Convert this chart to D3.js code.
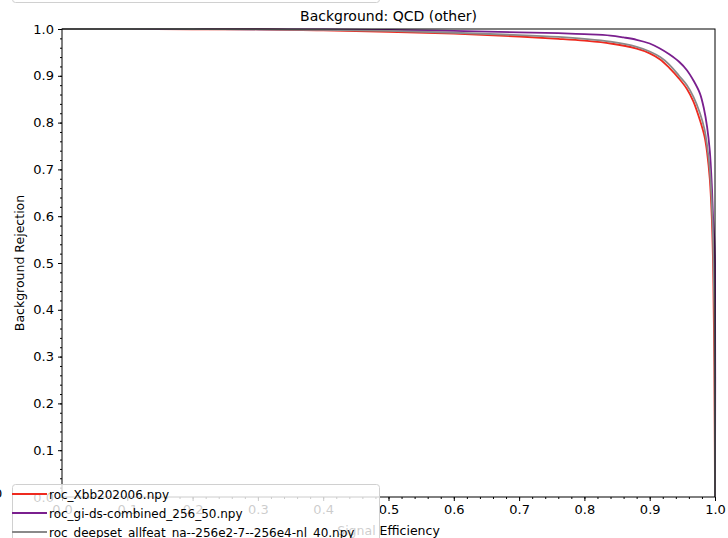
<!DOCTYPE html>
<html>
<head>
<meta charset="utf-8">
<script src="https://cdn.jsdelivr.net/npm/d3@7"></script>
<style>
  body { margin: 0; background: #fff; }
  svg { display: block; font-family: "DejaVu Sans", sans-serif; }
</style>
</head>
<body>
<div id="chart"></div>
<script>
// ROC curves, background QCD (other)
var seriesNames = ["roc_Xbb202006.npy", "roc_gi-ds-combined_256_50.npy", "roc_deepset_allfeat_na--256e2-7--256e4-nl_40.npy"];
var seriesColors = ["#ee2a1f", "#7a1f8e", "#8a8a8a"];

var xbbEff = [0, 0.1, 0.2, 0.3, 0.4, 0.5, 0.6, 0.7, 0.76, 0.8, 0.84, 0.88, 0.9, 0.916, 0.93, 0.945, 0.957, 0.967, 0.977, 0.984, 0.988, 0.992, 0.995, 0.997, 0.998, 0.999, 1.0];
var xbbRej = [1.0, 1.0, 0.9995, 0.999, 0.997, 0.994, 0.99, 0.984, 0.979, 0.975, 0.969, 0.958, 0.948, 0.935, 0.917, 0.894, 0.872, 0.845, 0.805, 0.77, 0.735, 0.68, 0.6, 0.5, 0.4, 0.28, 0.0];

var giEff = [0, 0.1, 0.2, 0.3, 0.4, 0.5, 0.6, 0.7, 0.76, 0.8, 0.84, 0.86, 0.88, 0.9, 0.915, 0.93, 0.945, 0.957, 0.967, 0.977, 0.983, 0.988, 0.992, 0.995, 0.997, 0.999, 1.0, 1.0];
var giRej = [1.0, 1.0, 1.0, 0.9995, 0.999, 0.998, 0.996, 0.993, 0.991, 0.989, 0.986, 0.982, 0.977, 0.969, 0.959, 0.946, 0.93, 0.912, 0.89, 0.862, 0.83, 0.79, 0.74, 0.67, 0.6, 0.55, 0.5, 0.0];

var dsEff = [0, 0.1, 0.2, 0.3, 0.4, 0.5, 0.6, 0.7, 0.76, 0.8, 0.84, 0.88, 0.9, 0.916, 0.93, 0.945, 0.957, 0.967, 0.977, 0.984, 0.988, 0.992, 0.995, 0.997, 0.999, 1.0];
var dsRej = [1.0, 1.0, 1.0, 0.999, 0.998, 0.996, 0.992, 0.987, 0.983, 0.979, 0.973, 0.962, 0.952, 0.94, 0.924, 0.9, 0.88, 0.855, 0.82, 0.785, 0.75, 0.7, 0.63, 0.55, 0.4, 0.0];

var xTicks = [0.0, 0.1, 0.2, 0.3, 0.4, 0.5, 0.6, 0.7, 0.8, 0.9, 1.0];
var yTicks = [0.0, 0.1, 0.2, 0.3, 0.4, 0.5, 0.6, 0.7, 0.8, 0.9, 1.0];

var width = 728, height = 538;
var margin = {left: 62, right: 13, top: 29, bottom: 41};

var svg = d3.select("#chart").append("svg")
    .attr("width", width)
    .attr("height", height);

var x = d3.scaleLinear().domain([0, 1]).range([margin.left, width - margin.right]);
var y = d3.scaleLinear().domain([0, 1]).range([height - margin.bottom, margin.top]);

// bottom edge of a legend box from the figure above (cropped)
svg.append("rect")
    .attr("x", 12.5).attr("y", -40)
    .attr("width", 367).attr("height", 42.5)
    .attr("rx", 3)
    .attr("fill", "#fff").attr("stroke", "#d0d0d0");

svg.append("text")
    .attr("x", -6).attr("y", 498)
    .attr("font-size", 13)
    .text("0");

var minor = d3.range(0, 1.0001, 0.02);

// minor ticks
svg.append("g")
    .attr("transform", "translate(0," + y(0) + ")")
    .call(d3.axisBottom(x).tickValues(minor).tickSize(2).tickFormat(""))
    .call(g => g.select(".domain").remove());
svg.append("g")
    .attr("transform", "translate(" + x(0) + ",0)")
    .call(d3.axisLeft(y).tickValues(minor).tickSize(2).tickFormat(""))
    .call(g => g.select(".domain").remove());

// major ticks
var xAxis = svg.append("g")
    .attr("transform", "translate(0," + y(0) + ")")
    .call(d3.axisBottom(x).tickValues(xTicks).tickSize(4).tickPadding(4).tickFormat(d3.format(".1f")));
var yAxis = svg.append("g")
    .attr("transform", "translate(" + x(0) + ",0)")
    .call(d3.axisLeft(y).tickValues(yTicks).tickSize(4).tickPadding(4).tickFormat(d3.format(".1f")));

[xAxis, yAxis].forEach(function (a) {
    a.selectAll("text").attr("font-size", 13).attr("fill", "#000").attr("font-family", "DejaVu Sans");
    a.selectAll("line").attr("stroke", "#000");
    a.select(".domain").remove();
});

var line = d3.line()
    .curve(d3.curveCatmullRom.alpha(0.5))
    .x(function (d) { return x(d[0]); })
    .y(function (d) { return y(d[1]); });

var curves = [
    d3.zip(xbbEff, xbbRej),
    d3.zip(giEff, giRej),
    d3.zip(dsEff, dsRej)
];

svg.append("g").selectAll("path")
    .data(curves)
    .enter()
    .append("path")
    .attr("d", line)
    .attr("fill", "none")
    .attr("stroke", function (d, i) { return seriesColors[i]; })
    .attr("stroke-width", 1.8)
    .attr("stroke-linejoin", "round");

// frame
svg.append("rect")
    .attr("x", x(0)).attr("y", y(1))
    .attr("width", x(1) - x(0)).attr("height", y(0) - y(1))
    .attr("fill", "none").attr("stroke", "#000").attr("stroke-width", 1);

svg.append("text")
    .attr("x", (x(0) + x(1)) / 2).attr("y", 21)
    .attr("text-anchor", "middle")
    .attr("font-size", 14)
    .text("Background: QCD (other)");

svg.append("text")
    .attr("transform", "translate(24," + ((y(0) + y(1)) / 2) + ") rotate(-90)")
    .attr("text-anchor", "middle")
    .attr("font-size", 12.5)
    .text("Background Rejection");

svg.append("text")
    .attr("x", (x(0) + x(1)) / 2).attr("y", 535)
    .attr("text-anchor", "middle")
    .attr("font-size", 12.5)
    .text("Signal Efficiency");

// legend
var legend = svg.append("g");
legend.append("rect")
    .attr("x", 12.5).attr("y", 484.5)
    .attr("width", 367).attr("height", 80)
    .attr("rx", 3)
    .attr("fill", "#fff").attr("fill-opacity", 0.8)
    .attr("stroke", "#d0d0d0");

var items = legend.selectAll("g.item")
    .data(seriesNames)
    .enter()
    .append("g")
    .attr("class", "item")
    .attr("transform", function (d, i) { return "translate(0," + (494 + i * 19) + ")"; });

items.append("line")
    .attr("x1", 12).attr("x2", 47)
    .attr("stroke", function (d, i) { return seriesColors[i]; })
    .attr("stroke-width", 2);

items.append("text")
    .attr("x", 49).attr("y", 4.5)
    .attr("font-size", 12)
    .text(function (d) { return d; });
</script>
</body>
</html>
